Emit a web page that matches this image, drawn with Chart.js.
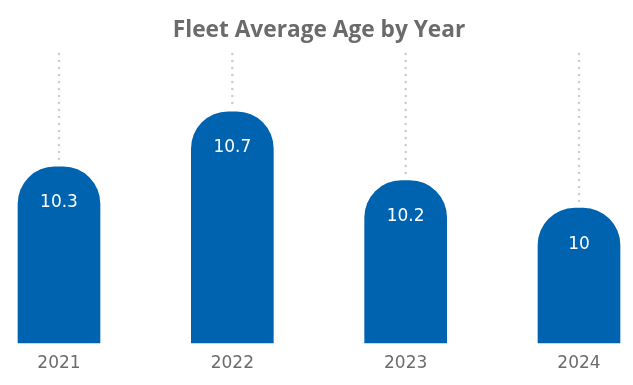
<!DOCTYPE html>
<html>
<head>
<meta charset="utf-8">
<script src="https://cdn.jsdelivr.net/npm/chart.js@4.4.1/dist/chart.umd.min.js"></script>
<style>
  html, body { margin: 0; padding: 0; background: #ffffff; }
  #wrap { width: 633px; height: 385px; position: relative; }
</style>
</head>
<body>
<div id="wrap"><canvas id="c" width="633" height="385"></canvas></div>
<script>
const categories = ['2021', '2022', '2023', '2024'];
const averageAge = [10.3, 10.7, 10.2, 10];
const chartTitle = 'Fleet Average Age by Year';

const BLUE = '#0063b0';
const GRAY = '#6b6b6e';
const AXIS_MIN = 9.02;
const AXIS_MAX = 11.12;

const dottedLines = {
  id: 'dottedLines',
  beforeDatasetsDraw(chart) {
    const ctx = chart.ctx;
    const top = chart.chartArea.top;
    const meta = chart.getDatasetMeta(0);
    ctx.save();
    ctx.strokeStyle = '#cdcdcd';
    ctx.lineWidth = 2.6;
    ctx.lineCap = 'round';
    ctx.setLineDash([0, 7]);
    meta.data.forEach(bar => {
      ctx.beginPath();
      ctx.moveTo(bar.x, top);
      ctx.lineTo(bar.x, bar.y - 4);
      ctx.stroke();
    });
    ctx.restore();
  }
};

const valueLabels = {
  id: 'valueLabels',
  afterDatasetsDraw(chart) {
    const ctx = chart.ctx;
    const meta = chart.getDatasetMeta(0);
    ctx.save();
    ctx.fillStyle = '#ffffff';
    ctx.font = '17px "DejaVu Sans"';
    ctx.textAlign = 'center';
    ctx.textBaseline = 'middle';
    meta.data.forEach((bar, i) => {
      ctx.fillText(String(averageAge[i]), bar.x, bar.y + 36);
    });
    ctx.restore();
  }
};

new Chart(document.getElementById('c'), {
  type: 'bar',
  data: {
    labels: categories,
    datasets: [{
      data: averageAge,
      base: AXIS_MIN,
      backgroundColor: BLUE,
      borderWidth: 0,
      borderSkipped: 'bottom',
      borderRadius: { topLeft: 37, topRight: 37, bottomLeft: 0, bottomRight: 0 },
      barThickness: 82,
      clip: false
    }]
  },
  options: {
    responsive: false,
    animation: false,
    events: [],
    layout: { padding: { left: 59, right: 54, top: 0, bottom: 1.6 } },
    plugins: {
      legend: { display: false },
      tooltip: { enabled: false },
      title: {
        display: true,
        text: chartTitle,
        color: GRAY,
        font: { family: '"Open Sans"', size: 22.7, weight: 'bold' },
        padding: { top: 17, bottom: 9.8 }
      }
    },
    scales: {
      x: {
        offset: false,
        grid: { display: false, drawTicks: false },
        border: { display: false },
        ticks: {
          color: GRAY,
          font: { family: '"DejaVu Sans"', size: 17 },
          padding: 10
        }
      },
      y: {
        display: false,
        min: AXIS_MIN,
        max: AXIS_MAX
      }
    }
  },
  plugins: [dottedLines, valueLabels]
});
</script>
</body>
</html>
